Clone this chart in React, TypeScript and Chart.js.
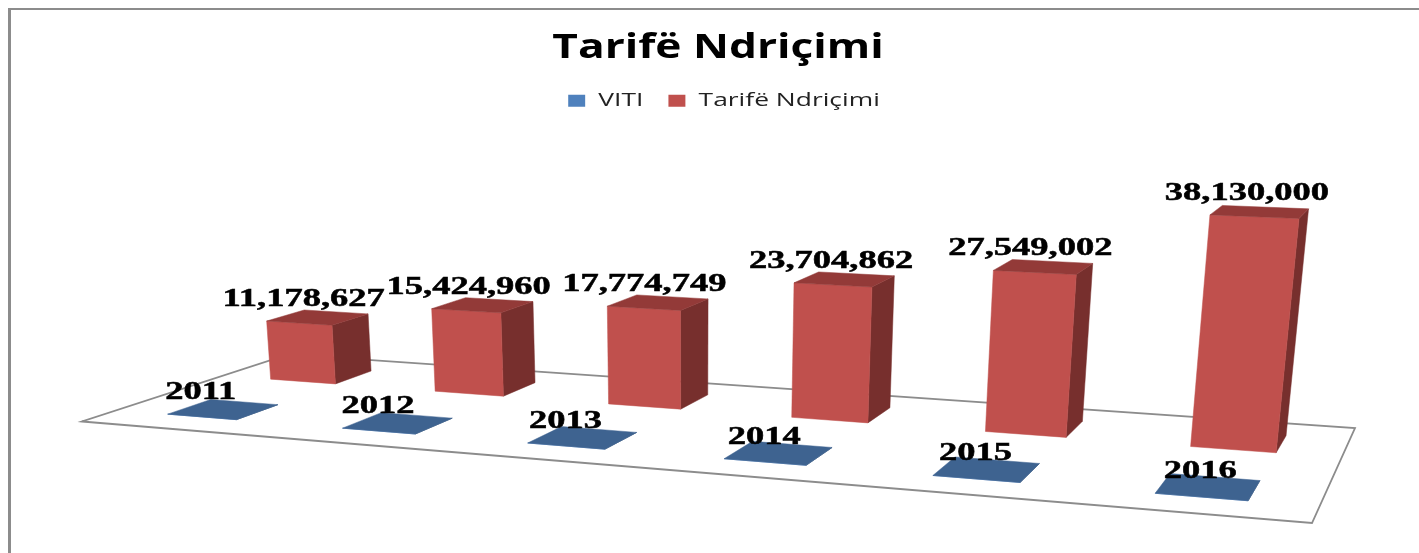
import React, { useEffect, useRef } from "react";
import { Chart, registerables } from "chart.js";

Chart.register(...registerables);

const categories = ["2011", "2012", "2013", "2014", "2015", "2016"];
const vitiValues = [2011, 2012, 2013, 2014, 2015, 2016];
const tarifeValues = [11178627, 15424960, 17774749, 23704862, 27549002, 38130000];

const titleText = "Tarifë Ndriçimi";
const seriesNames = ["VITI", "Tarifë Ndriçimi"];
const seriesColors = ["#4F81BD", "#C0504D"];
const seriesTop = ["#3E6390", "#933A38"];
const seriesSide = ["#335377", "#772F2D"];
const seriesDepth = [0.25, 0.75];
const depthHalf = 0.1;
const axisMax = 40000000;

// perspective camera: floor corners on the page and the vertical vanishing point
const P00 = [82, 421.5], P10 = [1312, 523], P11 = [1355, 428], P01 = [288.4, 354.4];
const VANISH = [689, 6457];
const LIFT = 0.03714;

function makeHomography() {
  const dx1 = P10[0] - P11[0], dy1 = P10[1] - P11[1];
  const dx2 = P01[0] - P11[0], dy2 = P01[1] - P11[1];
  const sx = P00[0] - P10[0] + P11[0] - P01[0], sy = P00[1] - P10[1] + P11[1] - P01[1];
  const det = dx1 * dy2 - dx2 * dy1;
  const g = (sx * dy2 - dx2 * sy) / det;
  const h = (dx1 * sy - sx * dy1) / det;
  return {
    a: P10[0] - P00[0] + g * P10[0], b: P01[0] - P00[0] + h * P01[0], c: P00[0],
    d: P10[1] - P00[1] + g * P10[1], e: P01[1] - P00[1] + h * P01[1], f: P00[1],
    g, h,
  };
}
const H = makeHomography();

function project(u: number, v: number, lift: number): [number, number] {
  const X = H.a * u + H.b * v + H.c;
  const Y = H.d * u + H.e * v + H.f;
  const W = H.g * u + H.h * v + 1;
  const t = -lift * LIFT;
  return [(X + t * VANISH[0]) / (W + t), (Y + t * VANISH[1]) / (W + t)];
}

function face(ctx: CanvasRenderingContext2D, pts: [number, number][], color: string) {
  ctx.beginPath();
  pts.forEach((p, i) => (i ? ctx.lineTo(p[0], p[1]) : ctx.moveTo(p[0], p[1])));
  ctx.closePath();
  ctx.fillStyle = color;
  ctx.strokeStyle = color;
  ctx.lineWidth = 0.5;
  ctx.fill();
  ctx.stroke();
}

const stretchBlock = (chart: any, block: any, centre: number, sx: number) => {
  const original = block.draw.bind(block);
  block.draw = (area: any) => {
    const ctx = chart.ctx;
    ctx.save();
    ctx.translate(centre, 0);
    ctx.scale(sx, 1);
    ctx.translate(-(block.left + block.right) / 2, 0);
    original(area);
    ctx.restore();
  };
};

const perspectivePlugin = {
  id: "perspective",
  afterInit(chart: any) {
    stretchBlock(chart, chart.titleBlock, 718, 1.32);
    stretchBlock(chart, chart.legend, 724, 1.39);
  },
  beforeDraw(chart: any) {
    const ctx = chart.ctx;
    ctx.save();
    ctx.fillStyle = "#ffffff";
    ctx.fillRect(0, 0, chart.width, chart.height);
    ctx.fillStyle = "#8C8C8C";
    ctx.fillRect(8, 8, chart.width - 8, 2);
    ctx.fillRect(8, 8, 3, chart.height - 8);
    ctx.restore();
  },
  beforeDatasetsDraw(chart: any) {
    const ctx = chart.ctx;
    const area = chart.chartArea;
    ctx.save();
    const floor = [project(0, 0, 0), project(1, 0, 0), project(1, 1, 0), project(0, 1, 0)];
    ctx.beginPath();
    floor.forEach((p, i) => (i ? ctx.lineTo(p[0], p[1]) : ctx.moveTo(p[0], p[1])));
    ctx.closePath();
    ctx.strokeStyle = "#8C8C8C";
    ctx.lineWidth = 1.8;
    ctx.stroke();

    const anchors: { x: number; y: number; text: string; dx: number }[] = [];
    [1, 0].forEach((ds) => {
      const meta = chart.getDatasetMeta(ds);
      meta.data.forEach((el: any, i: number) => {
        const u0 = (el.x - el.width / 2 - area.left) / area.width;
        const u1 = (el.x + el.width / 2 - area.left) / area.width;
        const v0 = seriesDepth[ds] - depthHalf;
        const v1 = seriesDepth[ds] + depthHalf;
        const lift = (el.base - el.y) / area.height;
        const fbl = project(u0, v0, 0), fbr = project(u1, v0, 0), bbr = project(u1, v1, 0);
        const ftl = project(u0, v0, lift), ftr = project(u1, v0, lift);
        const btr = project(u1, v1, lift), btl = project(u0, v1, lift);
        face(ctx, [fbr, bbr, btr, ftr], seriesSide[ds]);
        face(ctx, [fbl, fbr, ftr, ftl], seriesColors[ds]);
        face(ctx, [ftl, ftr, btr, btl], seriesTop[ds]);
        const value = chart.data.datasets[ds].data[i];
        anchors.push({
          x: ftl[0],
          y: ftl[1],
          text: ds === 0 ? String(value) : value.toLocaleString("en-US"),
          dx: ds === 0 ? 33 + 2.4 * i : 37,
        });
      });
    });

    ctx.fillStyle = "#000000";
    ctx.strokeStyle = "#000000";
    ctx.lineWidth = 0.5;
    ctx.font = 'bold 25px "Liberation Serif"';
    ctx.textAlign = "center";
    ctx.textBaseline = "alphabetic";
    anchors.forEach((a) => {
      ctx.save();
      ctx.translate(a.x + a.dx, a.y - 15);
      ctx.scale(1.46, 1);
      ctx.fillText(a.text, 0, 0);
      ctx.strokeText(a.text, 0, 0);
      ctx.restore();
    });
    ctx.restore();
    return false;
  },
};

export default function App() {
  const ref = useRef<HTMLCanvasElement>(null);
  useEffect(() => {
    const chart = new Chart(ref.current as HTMLCanvasElement, {
      type: "bar",
      data: {
        labels: categories,
        datasets: [
          { label: seriesNames[0], data: vitiValues, backgroundColor: seriesColors[0] },
          { label: seriesNames[1], data: tarifeValues, backgroundColor: seriesColors[1] },
        ],
      },
      options: {
        animation: false,
        responsive: false,
        events: [],
        datasets: { bar: { grouped: false, barPercentage: 0.4, categoryPercentage: 1 } },
        scales: {
          x: { display: false, offset: true },
          y: { display: false, min: 0, max: axisMax },
        },
        plugins: {
          tooltip: { enabled: false },
          title: {
            display: true,
            text: titleText,
            color: "#000000",
            font: { family: '"Open Sans"', size: 33.5, weight: "bold" },
            padding: { top: 28, bottom: 5 },
          },
          legend: {
            display: true,
            position: "top",
            labels: {
              color: "#222222",
              font: { family: '"Open Sans"', size: 19 },
              boxWidth: 12.2,
              boxHeight: 12,
              padding: 18,
            },
          },
        },
      },
      plugins: [perspectivePlugin],
    } as any);
    return () => chart.destroy();
  }, []);
  return (
    <div style={{ position: "fixed", left: 0, top: 0, width: 1419, height: 553, overflow: "hidden" }}>
      <canvas ref={ref} width={1419} height={553} style={{ display: "block", filter: "blur(0.5px)" }} />
    </div>
  );
}
